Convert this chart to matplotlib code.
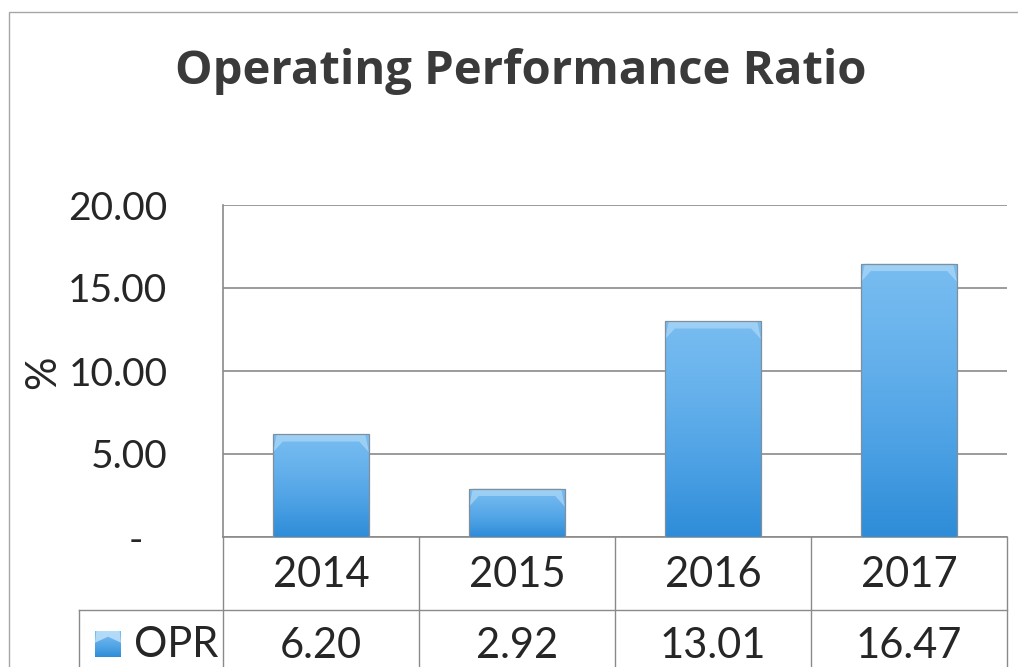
import numpy as np
import matplotlib
matplotlib.use("Agg")
import matplotlib.pyplot as plt
from matplotlib.colors import LinearSegmentedColormap
from matplotlib.transforms import ScaledTranslation, blended_transform_factory
from matplotlib.patches import Rectangle, Polygon
from matplotlib.lines import Line2D

# ---- data ----
title = "Operating Performance Ratio"
years = ["2014", "2015", "2016", "2017"]
opr = [6.20, 2.92, 13.01, 16.47]
value_labels = ["6.20", "2.92", "13.01", "16.47"]
series_name = "OPR"
y_label = "%"
yticks = [0, 5, 10, 15, 20]
ytick_labels = ["-", "5.00", "10.00", "15.00", "20.00"]

plt.rcParams['font.family'] = ['Lato', 'DejaVu Sans']

W, H = 1018, 667
fig = plt.figure(figsize=(W / 100, H / 100), dpi=100)
fig.patch.set_facecolor('white')


def fx(px):
    return px / W


def fy(py):
    return 1 - py / H


TXT = '#262626'
GRID = '#8a8a8a'

# outer chart border
fig.add_artist(Rectangle((fx(9), fy(700)), fx(1040) - fx(9), fy(12) - fy(700),
                         transform=fig.transFigure, fill=False,
                         edgecolor='#a6a6a6', linewidth=1.0))

# title
fig.text(fx(521), fy(84), title, ha='center', va='baseline',
         fontsize=34, fontweight='bold', color='#3a3a3a',
         family=['Open Sans', 'DejaVu Sans'])

# plot area
L, R, T, B = 223, 1007, 205, 537
ax = fig.add_axes([fx(L), fy(B), fx(R) - fx(L), fy(T) - fy(B)])
x = np.arange(len(years))

bars = ax.bar(x, opr, width=0.49, color='none', edgecolor='#7f8f9c',
              linewidth=0.9, zorder=4)

cmap = LinearSegmentedColormap.from_list(
    'bar', ['#2E8CD8', '#4CA1E4', '#66B1EC', '#78BDF1'])
grad = np.linspace(0, 1, 256).reshape(-1, 1)
for b in bars:
    x0, y0 = b.get_x(), b.get_y()
    w, h = b.get_width(), b.get_height()
    im = ax.imshow(grad, extent=[x0, x0 + w, y0, y0 + h], origin='lower',
                   cmap=cmap, aspect='auto', zorder=3, interpolation='bilinear')
    im.set_clip_path(b)
    top = y0 + h
    ax.add_patch(Polygon([(x0, top - 1.1), (x0 + 0.02, top), (x0 + w - 0.02, top),
                          (x0 + w, top - 1.1), (x0 + w - 0.05, top - 0.45),
                          (x0 + 0.05, top - 0.45)],
                         closed=True, facecolor='#B8DEF8', edgecolor='none',
                         alpha=0.6, zorder=3.5))

ax.set_xlim(-0.5, len(years) - 0.5)
ax.set_ylim(yticks[0], yticks[-1])
ax.set_yticks(yticks)
ax.set_yticklabels(ytick_labels)
ax.set_xticks([])
ax.yaxis.grid(True, color=GRID, linewidth=1.2)
ax.set_axisbelow(True)
for s in ['top', 'right', 'bottom']:
    ax.spines[s].set_visible(False)
ax.spines['left'].set_color(GRID)
ax.spines['left'].set_linewidth(1.2)
ax.tick_params(axis='y', length=0, pad=40, labelsize=28, labelcolor=TXT)
# accounting-style dash for zero sits further left
lab0 = ax.get_yticklabels()[0]
lab0.set_transform(lab0.get_transform() + ScaledTranslation(-24 / 100, 0, fig.dpi_scale_trans))

ax.set_ylabel(y_label, fontsize=30, color=TXT, rotation=90)
ax.yaxis.set_label_coords((62 - L) / (R - L), (B - 372) / (B - T))

# ---- data table below the axis ----
def ay(py):
    return (B - py) / (B - T)

def dx_from_px(px):
    return -0.5 + (px - L) / (R - L) * len(years)

trans = blended_transform_factory(ax.transData, ax.transAxes)
row1_bot = 610
table_bot = 700
# horizontal lines
ax.add_line(Line2D([-0.5, len(years) - 0.5], [ay(B), ay(B)], transform=trans,
                   color=GRID, lw=1.2, clip_on=False))
ax.add_line(Line2D([dx_from_px(79), len(years) - 0.5], [ay(row1_bot), ay(row1_bot)],
                   transform=trans, color=GRID, lw=1.0, clip_on=False))
# vertical lines
for i in range(len(years) + 1):
    xv = i - 0.5
    ax.add_line(Line2D([xv, xv], [ay(B), ay(table_bot)], transform=trans,
                       color=GRID, lw=1.0, clip_on=False))
ax.add_line(Line2D([dx_from_px(79)] * 2, [ay(row1_bot), ay(table_bot)], transform=trans,
                   color=GRID, lw=1.0, clip_on=False))

for i, (yr, v) in enumerate(zip(years, value_labels)):
    ax.text(i, ay(587), yr, transform=trans, ha='center', va='baseline',
            fontsize=30, color=TXT, clip_on=False)
    ax.text(i, ay(658), v, transform=trans, ha='center', va='baseline',
            fontsize=30, color=TXT, clip_on=False)

ax.text(dx_from_px(134), ay(657), series_name, transform=trans, ha='left',
        va='baseline', fontsize=30, color=TXT, clip_on=False)

# legend key swatch
sw = fig.add_axes([fx(95), fy(657), fx(121) - fx(95), fy(631) - fy(657)])
sw.imshow(grad, extent=[0, 1, 0, 1], origin='lower', cmap=cmap, aspect='auto')
sw.add_patch(Polygon([(0, 0.55), (0.05, 1), (0.95, 1), (1, 0.55), (0.5, 0.78)],
                     closed=True, facecolor='#C4E4FA', edgecolor='none', alpha=0.8))
sw.set_xlim(0, 1)
sw.set_ylim(0, 1)
sw.axis('off')

fig.savefig('out.png', dpi=100, facecolor='white')
